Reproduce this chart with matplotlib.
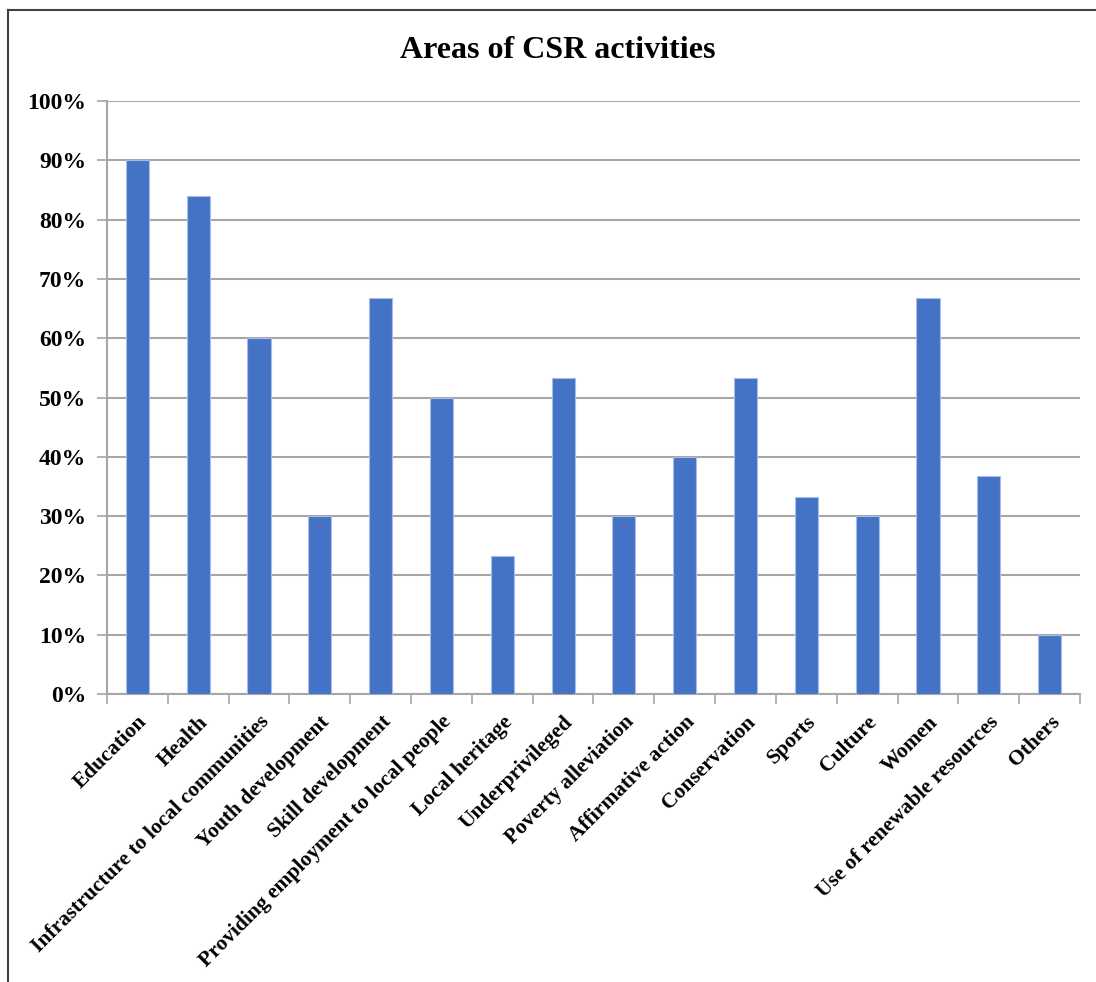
import numpy as np
import matplotlib
matplotlib.use("Agg")
import matplotlib.pyplot as plt
from matplotlib.lines import Line2D
from matplotlib.ticker import PercentFormatter

# Share of companies active in each CSR area (%)
areas = [
    "Education", "Health", "Infrastructure to local communities",
    "Youth development", "Skill development",
    "Providing employment to local people", "Local heritage",
    "Underprivileged", "Poverty alleviation", "Affirmative action",
    "Conservation", "Sports", "Culture", "Women",
    "Use of renewable resources", "Others",
]
shares = [90.0, 84.0, 60.0, 30.0, 66.7, 50.0, 23.3, 53.3,
          30.0, 40.0, 53.3, 33.3, 30.0, 66.7, 36.7, 10.0]

plt.rcParams["font.family"] = ["Liberation Serif", "DejaVu Serif"]
plt.rcParams["font.weight"] = "bold"

fig = plt.figure(figsize=(10.96, 9.82), dpi=100)
ax = fig.add_axes([0.0976, 0.2933, 0.8878, 0.6038])

grey = "#A6A6A6"
x = np.arange(len(areas))
ax.bar(x, shares, width=0.38, color="#4472C4", edgecolor="#A9BEE6",
       linewidth=0.8, zorder=3)

ax.set_xlim(-0.5, len(areas) - 0.5)
ax.set_ylim(0, 100)
ax.set_yticks(np.arange(0, 101, 10))
ax.yaxis.set_major_formatter(PercentFormatter(decimals=0))
ax.yaxis.grid(True, color=grey, linewidth=1.5, zorder=0)
ax.set_axisbelow(True)

# category labels, with tick marks sitting between the bars
ax.set_xticks(x)
ax.set_xticklabels(areas, rotation=45, ha="right", va="top",
                   rotation_mode="anchor", fontsize=15.5, fontweight="bold")
ax.tick_params(axis="x", length=0, pad=13)
ax.set_xticks(np.arange(-0.5, len(areas)), minor=True)
ax.tick_params(axis="x", which="minor", length=7, width=1.2, color=grey,
               direction="out")
ax.tick_params(axis="y", length=7, width=1.2, color=grey, labelsize=17,
               pad=8)
for lab in ax.get_yticklabels():
    lab.set_fontweight("bold")

for side in ["top", "right"]:
    ax.spines[side].set_visible(False)
for side in ["left", "bottom"]:
    ax.spines[side].set_color(grey)
    ax.spines[side].set_linewidth(1.5)

fig.suptitle("Areas of CSR activities", fontsize=23, fontweight="bold",
             x=0.509, y=1 - 51 / 982, va="center")

# outer chart frame
frame = dict(color="#404040", linewidth=1.5, transform=fig.transFigure)
fig.add_artist(Line2D([8 / 1096, 8 / 1096], [0, 1 - 10 / 982], **frame))
fig.add_artist(Line2D([8 / 1096, 1], [1 - 10 / 982, 1 - 10 / 982], **frame))

fig.savefig("out.png", dpi=100, facecolor="white")
